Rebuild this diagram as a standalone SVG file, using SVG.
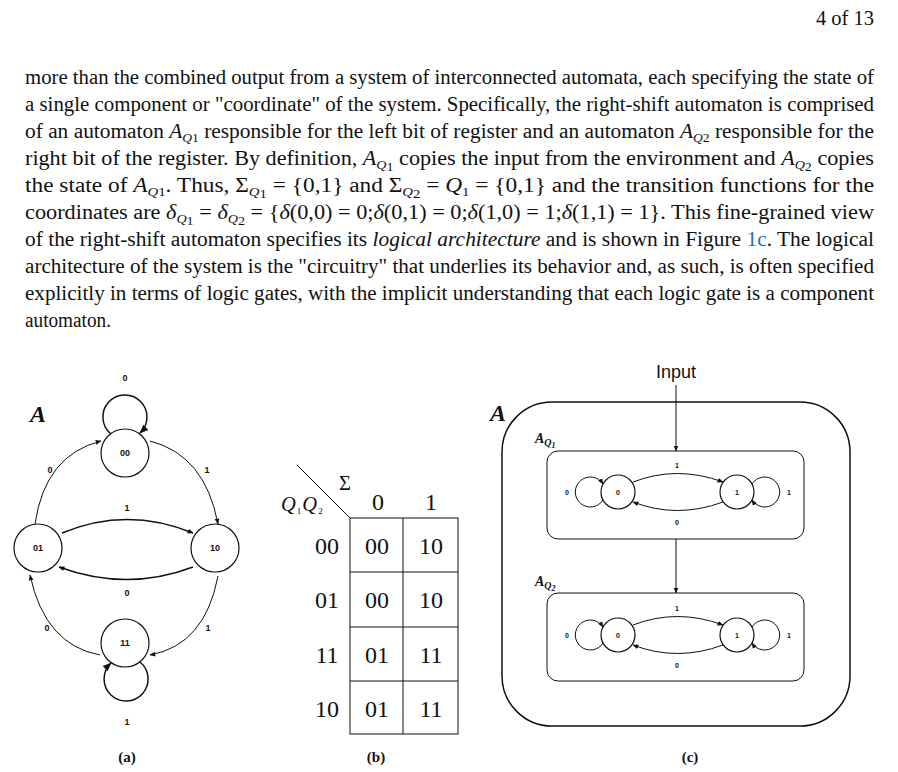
<svg xmlns="http://www.w3.org/2000/svg" width="898" height="772" viewBox="0 0 898 772">
<style>
.p{font-family:"Liberation Serif","Times New Roman",serif;font-size:20.5px;fill:#111}
.i{font-style:italic}
.s{font-size:13px}
.n{font-family:"Liberation Sans",Arial,sans-serif;font-weight:bold;font-size:9px;text-anchor:middle;dominant-baseline:central;fill:#111}
.ns{font-family:"Liberation Sans",Arial,sans-serif;font-weight:bold;font-size:7px;text-anchor:middle;dominant-baseline:central;fill:#111}
.ln{fill:none;stroke:#111;stroke-width:1.5}
.lt{fill:none;stroke:#111;stroke-width:1}
.st{fill:#fff;stroke:#111;stroke-width:1.2}
.t{font-family:"Liberation Serif",serif;font-size:24px;fill:#111;text-anchor:middle}
.cap{font-family:"Liberation Serif",serif;font-weight:bold;font-size:15px;text-anchor:middle;fill:#111}
.bA{font-family:"Liberation Serif",serif;font-weight:bold;font-style:italic;fill:#111}
</style>
<defs>
<marker id="ar" viewBox="0 0 10 10" refX="9" refY="5" markerWidth="6" markerHeight="6" orient="auto" markerUnits="userSpaceOnUse"><path d="M0,1 L10,5 L0,9 z" fill="#111"/></marker>
<marker id="arb" viewBox="0 0 10 10" refX="9" refY="5" markerWidth="9" markerHeight="9" orient="auto" markerUnits="userSpaceOnUse"><path d="M0,1 L10,5 L0,9 z" fill="#111"/></marker>
</defs>
<rect width="898" height="772" fill="#fff"/>
<text class="p" x="874" y="25" text-anchor="end" font-size="16">4 of 13</text>

<g id="paragraph">
<text class="p" x="25" y="84" textLength="849" lengthAdjust="spacingAndGlyphs">more than the combined output from a system of interconnected automata, each specifying the state of</text>
<text class="p" x="25" y="111" textLength="849" lengthAdjust="spacingAndGlyphs">a single component or "coordinate" of the system. Specifically, the right-shift automaton is comprised</text>
<text class="p" x="25" y="138" textLength="849" lengthAdjust="spacingAndGlyphs">of an automaton <tspan class="i">A</tspan><tspan class="i s" dy="4">Q</tspan><tspan class="s">1</tspan><tspan dy="-4"> responsible for the left bit of register and an automaton </tspan><tspan class="i">A</tspan><tspan class="i s" dy="4">Q</tspan><tspan class="s">2</tspan><tspan dy="-4"> responsible for the</tspan></text>
<text class="p" x="25" y="165" textLength="849" lengthAdjust="spacingAndGlyphs">right bit of the register. By definition, <tspan class="i">A</tspan><tspan class="i s" dy="4">Q</tspan><tspan class="s" font-size="9" dy="2">1</tspan><tspan dy="-6"> copies the input from the environment and </tspan><tspan class="i">A</tspan><tspan class="i s" dy="4">Q</tspan><tspan class="s" font-size="9" dy="2">2</tspan><tspan dy="-6"> copies</tspan></text>
<text class="p" x="25" y="192" textLength="849" lengthAdjust="spacingAndGlyphs">the state of <tspan class="i">A</tspan><tspan class="i s" dy="4">Q</tspan><tspan class="s">1</tspan><tspan dy="-4">. Thus, Σ</tspan><tspan class="i s" dy="4">Q</tspan><tspan class="s" font-size="9" dy="2">1</tspan><tspan dy="-6"> = {0,1} and Σ</tspan><tspan class="i s" dy="4">Q</tspan><tspan class="s" font-size="9" dy="2">2</tspan><tspan dy="-6"> = </tspan><tspan class="i">Q</tspan><tspan class="s" dy="4">1</tspan><tspan dy="-4"> = {0,1} and the transition functions for the</tspan></text>
<text class="p" x="25" y="219" textLength="849" lengthAdjust="spacingAndGlyphs">coordinates are <tspan class="i">δ</tspan><tspan class="i s" dy="4">Q</tspan><tspan class="s" font-size="9" dy="2">1</tspan><tspan dy="-6"> = </tspan><tspan class="i">δ</tspan><tspan class="i s" dy="4">Q</tspan><tspan class="s" font-size="9" dy="2">2</tspan><tspan dy="-6"> = {</tspan><tspan class="i">δ</tspan>(0,0) = 0;<tspan class="i">δ</tspan>(0,1) = 0;<tspan class="i">δ</tspan>(1,0) = 1;<tspan class="i">δ</tspan>(1,1) = 1}. This fine-grained view</text>
<text class="p" x="25" y="246" textLength="849" lengthAdjust="spacingAndGlyphs">of the right-shift automaton specifies its <tspan class="i">logical architecture</tspan> and is shown in Figure <tspan fill="#2a6ebb">1c</tspan>.  The logical</text>
<text class="p" x="25" y="273" textLength="849" lengthAdjust="spacingAndGlyphs">architecture of the system is the "circuitry" that underlies its behavior and, as such, is often specified</text>
<text class="p" x="25" y="300" textLength="849" lengthAdjust="spacingAndGlyphs">explicitly in terms of logic gates, with the implicit understanding that each logic gate is a component</text>
<text class="p" x="25" y="327" textLength="86" lengthAdjust="spacingAndGlyphs">automaton.</text>
</g>

<!-- (a) -->
<text class="bA" x="30" y="422" font-size="24">A</text>
<g id="edges-a">
<path class="ln" d="M111,434 A22,22 0 1 1 140,433" marker-end="url(#arb)"/>
<path class="ln" d="M140,662 A22,22 0 1 1 111,663" marker-end="url(#arb)"/>
<path class="lt" d="M35,524 Q45,455 101,441" marker-end="url(#ar)"/>
<path class="lt" d="M150,441 Q205,455 218,524" marker-end="url(#ar)"/>
<path class="lt" d="M218,576 Q205,645 150,655" marker-end="url(#ar)"/>
<path class="lt" d="M100,655 Q45,645 30,575" marker-end="url(#ar)"/>
<path class="ln" d="M62,533 Q127,506 193,533" marker-end="url(#ar)"/>
<path class="ln" d="M193,567 Q127,592 59,567" marker-end="url(#ar)"/>
<text class="n" x="125" y="378">0</text>
<text class="n" x="50" y="470">0</text>
<text class="n" x="207" y="470">1</text>
<text class="n" x="127" y="508">1</text>
<text class="n" x="127" y="593">0</text>
<text class="n" x="47" y="628">0</text>
<text class="n" x="208" y="628">1</text>
<text class="n" x="127" y="722">1</text>
</g>
<g id="n00"><circle class="st" cx="125" cy="453" r="24"/><text class="n" x="125" y="453">00</text></g>
<g id="n01"><circle class="st" cx="38" cy="548" r="24"/><text class="n" x="38" y="548">01</text></g>
<g id="n10"><circle class="st" cx="215" cy="548" r="24"/><text class="n" x="215" y="548">10</text></g>
<g id="n11"><circle class="st" cx="125" cy="643" r="24"/><text class="n" x="125" y="643">11</text></g>
<text class="cap" x="127" y="762">(a)</text>

<!-- (b) -->
<g id="table">
<line class="lt" x1="297" y1="465" x2="350" y2="518"/>
<rect x="350" y="518" width="108" height="216" class="lt" stroke-width="1.5"/>
<line class="lt" x1="403" y1="518" x2="403" y2="734"/>
<line class="lt" x1="350" y1="572" x2="458" y2="572"/>
<line class="lt" x1="350" y1="627" x2="458" y2="627"/>
<line class="lt" x1="350" y1="681" x2="458" y2="681"/>
<text class="p" x="345" y="490" font-size="19" text-anchor="middle">Σ</text>
<text class="p" x="281" y="511" font-size="14"><tspan class="i">Q</tspan><tspan font-size="9" dx="1" dy="3">1</tspan><tspan class="i" dx="1" dy="-3">Q</tspan><tspan font-size="9" dx="1" dy="3">2</tspan></text>
<text class="t" x="378" y="510">0</text><text class="t" x="431" y="510">1</text>
<text class="t" x="327" y="554">00</text><text class="t" x="377" y="554">00</text><text class="t" x="431" y="554">10</text>
<text class="t" x="327" y="608">01</text><text class="t" x="377" y="608">00</text><text class="t" x="431" y="608">10</text>
<text class="t" x="327" y="663">11</text><text class="t" x="377" y="663">01</text><text class="t" x="431" y="663">11</text>
<text class="t" x="327" y="717">10</text><text class="t" x="377" y="717">01</text><text class="t" x="431" y="717">11</text>
</g>
<text class="cap" x="376" y="762">(b)</text>

<!-- (c) -->
<g id="outer"><rect x="502" y="402" width="348" height="324" rx="50" class="ln"/></g>
<text class="bA" x="490" y="421" font-size="24">A</text>
<text x="676" y="378" text-anchor="middle" font-family="Liberation Sans, Arial, sans-serif" font-size="18" fill="#111">Input</text>
<g id="conn-c">
<line class="lt" x1="676" y1="385" x2="676" y2="451" marker-end="url(#ar)"/>
<line class="lt" x1="676" y1="539" x2="676" y2="593" marker-end="url(#ar)"/>
</g>
<g id="AQ1">
<rect x="547" y="451" width="257" height="88" rx="11" class="lt"/>
<text class="bA" x="535" y="443" font-size="14">A<tspan font-size="10" dy="3">Q</tspan><tspan font-size="8" dy="2">1</tspan></text>
<path class="lt" d="M603,500 A15,15 0 1 1 603,484" marker-end="url(#ar)"/>
<path class="lt" d="M752,484 A15,15 0 1 1 752,500" marker-end="url(#ar)"/>
<path class="lt" d="M633,482 Q677,465 723,482" marker-end="url(#ar)"/>
<path class="lt" d="M723,502 Q677,519 633,502" marker-end="url(#ar)"/>
<circle class="st" cx="618" cy="492" r="17"/><text class="ns" x="618" y="492">0</text>
<circle class="st" cx="737" cy="492" r="17"/><text class="ns" x="737" y="492">1</text>
<text class="ns" x="567" y="492">0</text><text class="ns" x="789" y="492">1</text>
<text class="ns" x="677" y="465">1</text><text class="ns" x="677" y="522">0</text>
</g>
<g id="AQ2">
<rect x="547" y="593" width="257" height="88" rx="11" class="lt"/>
<text class="bA" x="535" y="586" font-size="14">A<tspan font-size="10" dy="3">Q</tspan><tspan font-size="8" dy="2">2</tspan></text>
<path class="lt" d="M603,643 A15,15 0 1 1 603,627" marker-end="url(#ar)"/>
<path class="lt" d="M752,627 A15,15 0 1 1 752,643" marker-end="url(#ar)"/>
<path class="lt" d="M633,625 Q677,608 723,625" marker-end="url(#ar)"/>
<path class="lt" d="M723,645 Q677,662 633,645" marker-end="url(#ar)"/>
<circle class="st" cx="618" cy="635" r="17"/><text class="ns" x="618" y="635">0</text>
<circle class="st" cx="737" cy="635" r="17"/><text class="ns" x="737" y="635">1</text>
<text class="ns" x="567" y="635">0</text><text class="ns" x="789" y="635">1</text>
<text class="ns" x="677" y="608">1</text><text class="ns" x="677" y="665">0</text>
</g>
<text class="cap" x="690" y="762">(c)</text>
</svg>
